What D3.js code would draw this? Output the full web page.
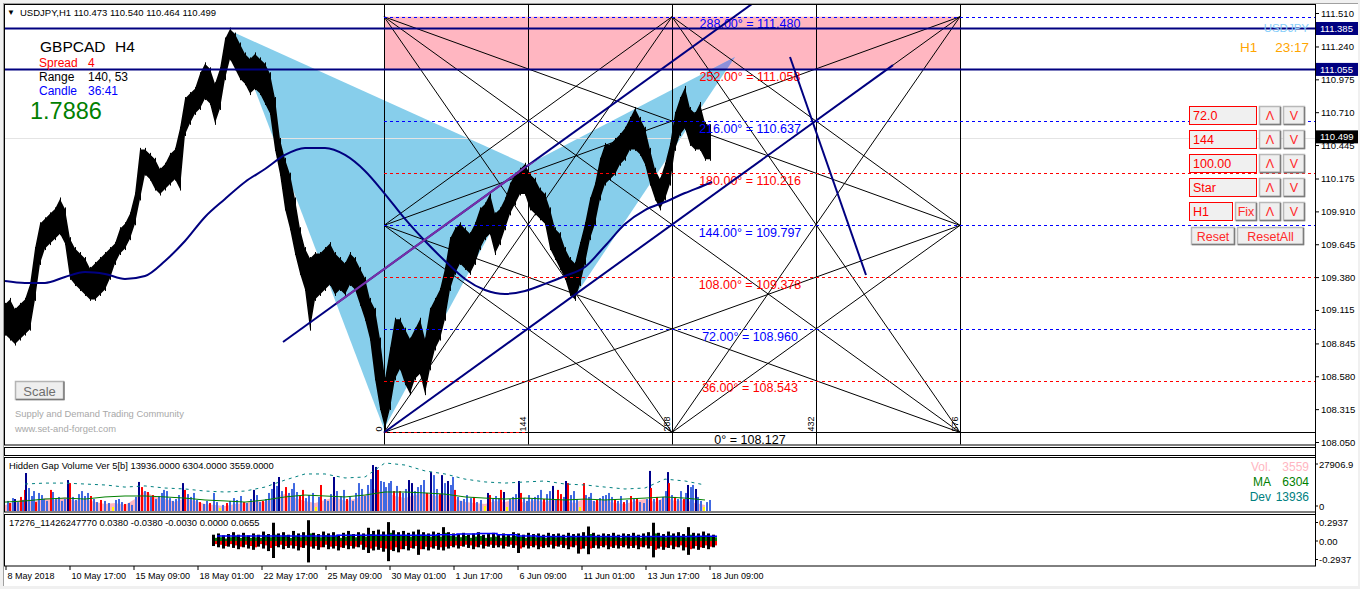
<!DOCTYPE html>
<html><head><meta charset="utf-8">
<script src="https://cdn.jsdelivr.net/npm/d3@7/dist/d3.min.js"></script>
<style>
html,body{margin:0;padding:0;background:#fff;overflow:hidden;}
svg{display:block;}
text{font-family:"Liberation Sans",Arial,sans-serif;}
</style></head><body>
<svg id="c" width="1360" height="589"></svg>
<script>
// ---------------- DATA ----------------
const timeTickBars=[0,64,128,192,256,320,384,448,512,576,640,704];
const timeLabels=["8 May 2018","10 May 17:00","15 May 09:00","18 May 01:00","22 May 17:00","25 May 09:00","30 May 01:00","1 Jun 17:00","6 Jun 09:00","11 Jun 01:00","13 Jun 17:00","18 Jun 09:00"];
const priceTicks=[111.510,111.240,110.975,110.710,110.445,110.175,109.910,109.645,109.380,109.115,108.845,108.580,108.315,108.050];
const priceTickLabels=["111.510","111.240","110.975","110.710","110.445","110.175","109.910","109.645","109.380","109.115","108.845","108.580","108.315","108.050"];
const axisMarks=[{v:111.385,label:"111.385",bg:"#000080"},{v:111.055,label:"111.055",bg:"#000080"},{v:110.499,label:"110.499",bg:"#000000"}];

const barStep=5;
const highs=[109.16,109.20,109.12,109.16,109.20,109.32,109.61,109.81,109.85,109.89,
109.93,110.01,109.93,109.69,109.61,109.57,109.53,109.45,109.49,109.53,
109.57,109.61,109.65,109.77,109.81,109.89,110.05,110.41,110.41,110.37,
110.33,110.25,110.29,110.37,110.41,110.58,110.82,110.86,110.90,111.02,
111.10,111.06,110.94,111.06,111.30,111.38,111.34,111.26,111.18,111.14,
111.18,111.14,111.10,111.02,110.82,110.49,110.33,110.21,110.01,109.77,
109.61,109.53,109.57,109.57,109.61,109.65,109.57,109.53,109.49,109.57,
109.53,109.45,109.37,109.20,109.12,108.88,108.56,108.80,109.04,109.04,
108.96,108.88,108.96,109.04,108.88,109.12,109.20,109.28,109.45,109.69,
109.77,109.81,109.77,109.73,109.81,109.93,109.97,110.05,109.89,109.93,
110.01,110.13,110.21,110.25,110.29,110.21,110.17,110.09,110.05,109.93,
109.77,109.73,109.61,109.53,109.49,109.65,109.81,110.01,110.13,110.33,
110.45,110.45,110.49,110.53,110.58,110.66,110.74,110.66,110.58,110.41,
110.25,110.17,110.29,110.45,110.70,110.82,110.91,110.74,110.70,110.78,
110.62,110.60];
const lows=[108.92,108.88,108.84,108.88,108.92,108.96,109.20,109.49,109.61,109.65,
109.69,109.73,109.65,109.37,109.32,109.28,109.24,109.20,109.20,109.24,
109.28,109.37,109.49,109.57,109.61,109.69,109.81,110.01,110.21,110.17,
110.09,110.05,110.09,110.13,110.17,110.09,110.53,110.62,110.70,110.74,
110.82,110.78,110.62,110.74,110.98,111.14,111.06,110.98,110.94,110.86,
110.90,110.86,110.78,110.70,110.41,110.21,109.93,109.77,109.57,109.41,
109.28,108.96,109.20,109.24,109.28,109.32,109.24,109.28,109.24,109.32,
109.28,109.16,109.04,108.88,108.56,108.32,108.16,108.32,108.56,108.64,
108.52,108.44,108.56,108.60,108.44,108.64,108.80,108.88,109.04,109.28,
109.41,109.49,109.45,109.41,109.49,109.61,109.69,109.73,109.57,109.65,
109.77,109.89,109.97,110.05,110.05,109.93,109.89,109.85,109.81,109.61,
109.53,109.45,109.37,109.24,109.20,109.32,109.49,109.69,109.81,110.01,
110.13,110.17,110.21,110.29,110.33,110.41,110.41,110.37,110.29,110.13,
110.01,109.93,110.01,110.13,110.41,110.53,110.58,110.45,110.41,110.41,
110.33,110.33];
const bidPrice=110.499;

const maStep=20;
const maValues=[109.349,109.333,109.333,109.381,109.421,109.405,109.365,109.389,109.510,109.671,
109.865,110.010,110.147,110.252,110.365,110.421,110.421,110.365,110.236,110.050,
109.849,109.671,109.510,109.365,109.276,109.244,109.268,109.325,109.389,109.462,
109.631,109.808,109.921,109.986,110.058,110.123];

const gannStart=379, gannSpan=576;
const gannTimeMarks=[0,144,288,432,576];
const gannLevels=[108.127,108.543,108.960,109.378,109.797,110.216,110.637,111.058,111.480];
const gannAngles=["0°","36.00°","72.00°","108.00°","144.00°","180.00°","216.00°","252.00°","288.00°"];
const zoneTop=111.480, zoneBottom=111.055;

const harmBars=[228,379,522,570,730];
const harmPrices=[111.357,108.155,110.284,109.228,111.155];

const trendUpper=[[278,108.857],[747,111.583]];
const trendLower=[[379,108.127],[888,111.090]];
const trendSteep=[[785,111.155],[861,109.397]];
const navyLevels=[111.385,111.055];

// volume sub-window
const volMax=27906.9;
const volSpikes=[[2,5300,'b'],[4,4200,'r'],[7,6800,'b'],[9,6300,'n'],[12,4700,'b'],[15,7400,'r'],[17,5800,'b'],[19,11100,'r'],[20,20000,'n'],[23,12100,'b'],
[26,7900,'b'],[28,10500,'b'],[30,4700,'r'],[33,9500,'b'],[36,8400,'b'],[38,6300,'b'],[41,5300,'b'],[45,11100,'r'],[47,10000,'b'],[50,6300,'b'],
[53,7400,'b'],[56,5300,'b'],[59,6300,'b'],[62,16300,'n'],[64,14700,'r'],[67,7400,'b'],[70,5800,'b'],[73,8900,'b'],[76,10500,'b'],[79,7900,'b'],
[82,9500,'b'],[85,7900,'r'],[88,6300,'b'],[91,4700,'b'],[95,5800,'r'],[99,5300,'b'],[103,4200,'b'],[107,2100,'y'],[110,5800,'b'],[113,6300,'b'],
[116,4700,'b'],[119,3700,'r'],[123,4200,'b'],[126,3200,'b'],[130,7400,'b'],[133,15300,'n'],[136,12600,'r'],[139,10500,'b'],[142,10000,'r'],[145,7400,'b'],
[147,8400,'r'],[150,6300,'b'],[153,7900,'b'],[156,9500,'b'],[158,11100,'b'],[161,10500,'b'],[164,6800,'b'],[167,5300,'b'],[170,6300,'b'],[173,8400,'b'],
[177,14700,'n'],[179,11100,'r'],[182,8900,'b'],[185,7400,'b'],[188,9500,'b'],[191,5800,'b'],[194,4700,'r'],[198,3700,'b'],[201,5300,'b'],[204,4200,'r'],
[208,9500,'b'],[211,4700,'b'],[214,1600,'y'],[217,3200,'b'],[221,4200,'r'],[224,5300,'b'],[228,6800,'b'],[231,5800,'b'],[235,7900,'b'],[238,4700,'r'],
[241,4200,'b'],[245,6300,'b'],[248,11100,'n'],[251,8400,'b'],[254,4700,'b'],[257,5300,'r'],[260,6300,'b'],[263,9500,'b'],[266,11600,'b'],[268,15300,'n'],
[271,13200,'b'],[273,17900,'n'],[276,10500,'b'],[280,12600,'r'],[283,9500,'b'],[286,11600,'b'],[288,14700,'b'],[291,10000,'b'],[294,7900,'r'],[297,11100,'r'],
[300,6800,'b'],[303,8400,'b'],[307,9500,'b'],[310,2100,'y'],[313,7400,'b'],[315,13700,'r'],[319,6300,'b'],[322,5300,'b'],[325,8900,'b'],[328,17900,'n'],
[331,10500,'b'],[335,7900,'b'],[338,11100,'b'],[341,6300,'r'],[344,7400,'b'],[347,5300,'b'],[350,9500,'b'],[353,14700,'b'],[356,11600,'b'],[359,7900,'b'],
[362,13700,'b'],[365,16800,'b'],[367,24200,'n'],[370,23200,'n'],[372,21600,'r'],[375,15800,'b'],[378,15300,'b'],[380,12600,'b'],[383,14700,'b'],[385,15800,'b'],
[388,10500,'r'],[391,13200,'b'],[394,10500,'r'],[397,9500,'b'],[400,11600,'b'],[403,16300,'n'],[406,14700,'n'],[409,10500,'b'],[412,12600,'b'],[415,13700,'b'],
[418,16300,'b'],[421,9500,'r'],[425,20500,'n'],[428,18900,'b'],[431,11600,'b'],[434,8900,'r'],[436,18900,'n'],[439,14700,'b'],[442,15800,'n'],[445,13700,'b'],
[447,17900,'b'],[449,11100,'r'],[452,7400,'b'],[455,5300,'b'],[458,6300,'b'],[461,8400,'b'],[465,6800,'b'],[468,7400,'r'],[471,4700,'b'],[475,5800,'b'],
[479,2600,'y'],[482,9500,'n'],[484,8400,'r'],[487,6300,'b'],[490,7900,'b'],[493,6800,'b'],[495,11100,'r'],[498,10000,'n'],[501,2100,'y'],[504,6300,'b'],
[507,7400,'b'],[510,8900,'b'],[513,15800,'n'],[515,9500,'r'],[518,6800,'b'],[521,5300,'b'],[523,8400,'b'],[526,6300,'b'],[529,7400,'b'],[532,8400,'b'],
[535,11100,'b'],[538,6300,'r'],[541,8900,'b'],[544,10500,'b'],[547,13200,'n'],[550,6300,'b'],[552,11100,'r'],[555,8900,'r'],[558,7400,'b'],[560,15800,'n'],
[562,14700,'r'],[565,8400,'b'],[568,10500,'b'],[571,6300,'b'],[574,2100,'y'],[578,14700,'r'],[580,8400,'b'],[583,7400,'b'],[585,9500,'b'],[588,5300,'b'],
[591,5800,'r'],[594,6800,'b'],[597,7900,'b'],[600,8400,'b'],[603,9500,'b'],[606,7400,'b'],[609,6300,'r'],[612,5300,'b'],[615,7900,'b'],[618,4700,'r'],
[621,5800,'b'],[625,7900,'r'],[628,6300,'b'],[631,6800,'r'],[634,4700,'b'],[638,4200,'b'],[641,6300,'b'],[644,21100,'n'],[645,12100,'r'],[648,6300,'b'],
[651,7400,'r'],[654,5800,'b'],[657,7400,'b'],[660,10500,'b'],[662,20500,'n'],[663,14700,'r'],[666,8400,'b'],[669,7400,'r'],[672,6300,'b'],[675,10500,'b'],
[678,6300,'r'],[680,9500,'b'],[682,13700,'n'],[685,12600,'b'],[687,13700,'b'],[690,11600,'n'],[692,7400,'b'],[695,5300,'b'],[698,2100,'y'],[701,4700,'b'],
[704,5800,'b']];
const volBaseStep=10;
const volBase=[3200,4700,6300,5300,6800,5800,7400,5300,6300,4700,3700,4200,3200,6300,10500,7400,6300,4700,6800,5300,
3700,3200,2600,3700,4200,5300,4700,7400,8900,6800,5300,4200,5800,7400,5300,6300,8400,11600,10000,7900,
6800,8400,9500,7900,8900,6300,4700,4200,3700,5300,4700,6300,4200,5800,4700,6300,5300,4200,6800,4700,
5800,4200,3700,5300,6300,4700,7400,5300,5800,4200,3200];
const volMAStep=20;
const volMA=[4700,5300,6300,6800,6300,7400,7900,7900,7400,6800,5800,5300,4700,5800,7400,8400,7900,7400,8400,10000,
10000,9500,8900,7400,6800,6300,6800,6300,5800,6300,5800,6300,6800,7400,6800,5800];
const volDevStart=20;
const volDev=[14200,14700,14700,14200,13700,12600,13200,12100,11600,10500,10000,10500,12600,16300,19500,19500,17400,17900,25300,24200,
21100,19500,16800,15300,14700,15300,15800,14200,13700,12600,11600,12100,16800,15800,13700];

// oscillator sub-window
const oscStart=207, oscStep=5, oscMax=0.2937;
const oscHi=[.10,.12,.09,.11,.14,.10,.13,.09,.12,.10,.15,.11,.29,.12,.14,.10,.16,.12,.14,.33,
.13,.11,.15,.12,.14,.10,.13,.16,.11,.14,.12,.21,.16,.18,.15,.30,.17,.14,.16,.13,
.15,.18,.14,.12,.15,.13,.22,.14,.12,.11,.13,.10,.12,.14,.10,.11,.13,.10,.12,.11,
.14,.12,.10,.13,.11,.12,.10,.13,.11,.12,.10,.13,.11,.12,.14,.23,.13,.10,.12,.11,
.13,.10,.12,.11,.13,.10,.12,.14,.29,.13,.11,.15,.12,.14,.11,.22,.13,.12,.15,.12,.10];
const oscLo=[-.08,-.10,-.12,-.09,-.11,-.13,-.10,-.12,-.14,-.09,-.12,-.16,-.27,-.10,-.13,-.11,-.12,-.15,-.11,-.34,
-.12,-.14,-.10,-.13,-.12,-.15,-.11,-.13,-.12,-.10,-.14,-.19,-.15,-.14,-.17,-.32,-.16,-.18,-.13,-.15,
-.12,-.22,-.13,-.15,-.12,-.14,-.15,-.12,-.10,-.12,-.09,-.11,-.13,-.10,-.12,-.09,-.11,-.10,-.12,-.09,
-.11,-.19,-.10,-.12,-.10,-.13,-.11,-.10,-.12,-.09,-.11,-.13,-.10,-.20,-.12,-.21,-.11,-.12,-.10,-.13,
-.11,-.12,-.10,-.12,-.11,-.13,-.10,-.12,-.26,-.12,-.14,-.11,-.13,-.10,-.15,-.22,-.12,-.14,-.11,-.13,-.10];
const oscGreen=[.05,.06,.04,.06,.08,.05,.07,.05,.06,.05,.09,.06,.10,.07,.09,.05,.08,.06,.08,.12,
.07,.06,.09,.07,.08,.05,.07,.10,.06,.08,.07,.11,.09,.10,.08,.13,.10,.08,.09,.07,
.09,.10,.08,.07,.08,.07,.13,.08,.07,.06,.08,.05,.07,.08,.05,.06,.07,.05,.07,.06,
.08,.07,.05,.07,.06,.07,.05,.07,.06,.07,.05,.08,.06,.07,.08,.11,.08,.06,.07,.06,
.08,.05,.07,.06,.08,.05,.07,.08,.12,.08,.06,.09,.07,.08,.06,.10,.08,.07,.09,.07,.06];
const oscRed=[-.05,-.06,-.08,-.05,-.07,-.09,-.06,-.08,-.10,-.05,-.07,-.11,-.08,-.06,-.08,-.07,-.08,-.10,-.07,-.09,
-.08,-.10,-.06,-.09,-.08,-.10,-.07,-.08,-.09,-.06,-.10,-.12,-.09,-.11,-.12,-.14,-.10,-.13,-.08,-.11,
-.08,-.13,-.09,-.10,-.08,-.10,-.09,-.08,-.07,-.08,-.06,-.07,-.09,-.06,-.08,-.06,-.07,-.07,-.08,-.06,
-.07,-.12,-.07,-.08,-.07,-.09,-.07,-.06,-.08,-.06,-.07,-.09,-.07,-.13,-.08,-.12,-.07,-.08,-.07,-.09,
-.07,-.08,-.07,-.08,-.07,-.09,-.07,-.08,-.14,-.09,-.10,-.07,-.09,-.07,-.10,-.13,-.08,-.10,-.07,-.09,-.07];
const oscBlueStep=20;
const oscBlue=[.08,.08,.08,.08,.08,.08,.09,.09,.09,.09,.09,.10,.11,.12,.10,.08,.07,.07,.07,.07,.07,.07,.07,.07,.075,.075];

const ctrlInputs=["72.0","144","100.00","Star","H1"];

// ---------------- RENDER ----------------
const W=1360,H=589;
const svg=d3.select("#c");
const xs=d3.scaleLinear().domain([0,1310]).range([5,1315]);
const ys=d3.scaleLinear().domain([108.050,111.510]).range([442,13]);
const yv=d3.scaleLinear().domain([0,volMax]).range([511,458]);
const yo=d3.scaleLinear().domain([-oscMax,oscMax]).range([559.5,522.5]);
const AX=1315;

// window
svg.append("rect").attr("width",W).attr("height",H).attr("fill","#f0f0f0");
svg.append("rect").attr("x",4).attr("y",4).attr("width",1354).attr("height",582).attr("fill","#fff");
svg.append("line").attr("x1",3).attr("x2",1358).attr("y1",3.5).attr("y2",3.5).attr("stroke","#a0a0a0");
svg.append("line").attr("x1",3.5).attr("x2",3.5).attr("y1",3).attr("y2",586).attr("stroke","#a0a0a0");

const defs=svg.append("defs");
defs.append("clipPath").attr("id","clipMain").append("rect").attr("x",5).attr("y",4.5).attr("width",AX-5).attr("height",440);
defs.append("clipPath").attr("id","clipPink").append("rect")
  .attr("x",xs(gannStart)).attr("y",ys(zoneTop)).attr("width",xs(gannStart+gannSpan)-xs(gannStart)).attr("height",ys(zoneBottom)-ys(zoneTop));
const tri1=[0,1,2].map(i=>[xs(harmBars[i]),ys(harmPrices[i])]);
const tri2=[2,3,4].map(i=>[xs(harmBars[i]),ys(harmPrices[i])]);
const cb=defs.append("clipPath").attr("id","clipBlue");
cb.append("polygon").attr("points",tri1.join(" "));
cb.append("polygon").attr("points",tri2.join(" "));

const gm=svg.append("g").attr("clip-path","url(#clipMain)");
// pink zone
gm.append("rect").attr("x",xs(gannStart)).attr("y",ys(zoneTop))
  .attr("width",xs(gannStart+gannSpan)-xs(gannStart)).attr("height",ys(zoneBottom)-ys(zoneTop)).attr("fill","#FFB6C1");
// harmonic triangles
gm.append("polygon").attr("points",tri1.join(" ")).attr("fill","#87CEEB");
gm.append("polygon").attr("points",tri2.join(" ")).attr("fill","#87CEEB");
gm.append("g").attr("clip-path","url(#clipPink)").append("polygon").attr("points",tri2.join(" ")).attr("fill","#8e90da");
// bid line
gm.append("line").attr("x1",5).attr("x2",AX).attr("y1",Math.round(ys(bidPrice))+0.5).attr("y2",Math.round(ys(bidPrice))+0.5).attr("stroke","#e4e4e4");
// price band
const pdata=highs.map((h,i)=>({b:i*barStep,h:h,l:lows[i]}));
gm.append("path").datum(pdata).attr("d",d3.area().x(d=>xs(d.b)).y0(d=>ys(d.l)).y1(d=>ys(d.h)))
  .attr("fill","#000");
pdata.forEach(d=>{gm.append("line").attr("x1",xs(d.b)+0.5).attr("x2",xs(d.b)+0.5).attr("y1",ys(d.h)-1.5).attr("y2",ys(d.l)+1.5).attr("stroke","#000");});

// gann verticals
gannTimeMarks.forEach(t=>{const x=Math.round(xs(gannStart+t))+0.5;
  gm.append("line").attr("x1",x).attr("x2",x).attr("y1",4).attr("y2",445).attr("stroke","#000");});
// gann star lines
const g0=gannStart,g1=gannStart+gannSpan,gmid=gannStart+gannSpan/2;
const pT=gannLevels[8],pB=gannLevels[0],pM=gannLevels[4];
const P={TL:[g0,pT],TM:[gmid,pT],TR:[g1,pT],LM:[g0,pM],RM:[g1,pM],BL:[g0,pB],BM:[gmid,pB],BR:[g1,pB]};
const starPairs=[["TL","BR"],["TR","BL"],["TL","RM"],["TL","BM"],["TR","LM"],["TR","BM"],["BL","TM"],["BL","RM"],["BR","TM"],["BR","LM"],["TM","RM"],["RM","BM"],["BM","LM"],["LM","TM"]];
starPairs.forEach(([a,b])=>{gm.append("line").attr("x1",xs(P[a][0])).attr("y1",ys(P[a][1])).attr("x2",xs(P[b][0])).attr("y2",ys(P[b][1]))
  .attr("stroke","#000").attr("stroke-width",1);});
// levels
const yb0=Math.round(ys(gannLevels[0]))+0.5;
gm.append("line").attr("x1",xs(g0)).attr("x2",AX).attr("y1",yb0).attr("y2",yb0).attr("stroke","#000");
gannLevels.forEach((lv,i)=>{
  const y=Math.round(ys(lv))+0.5, col=(i%2===0&&i>0)?"#0000FF":"#FF0000";
  gm.append("line").attr("x1",xs(g0)).attr("x2",i===0?xs(g0+144):AX).attr("y1",y).attr("y2",y)
    .attr("stroke",col).attr("stroke-dasharray","3,3");
  gm.append("text").attr("x",xs(745)).attr("y",ys(lv)+11.5).attr("text-anchor","middle").attr("font-size","12.5px")
    .attr("fill",i===0?"#000":col).text(gannAngles[i]+" = "+lv.toFixed(3));
});
gannTimeMarks.forEach(t=>{gm.append("text").attr("transform",`translate(${xs(gannStart+t)-2},${ys(pB)-1}) rotate(-90)`)
  .attr("font-size","9px").attr("fill","#000").text(String(t));});

// MA
gm.append("path").datum(maValues.map((v,i)=>[i*maStep,v]).concat([[707,110.147]]))
  .attr("d",d3.line().x(d=>xs(d[0])).y(d=>ys(d[1])).curve(d3.curveMonotoneX))
  .attr("fill","none").attr("stroke","#000080").attr("stroke-width",2);
// trend lines
function tl(seg,col,clip){const l=gm.append("line").attr("x1",xs(seg[0][0])).attr("y1",ys(seg[0][1])).attr("x2",xs(seg[1][0])).attr("y2",ys(seg[1][1]))
  .attr("stroke",col).attr("stroke-width",2); if(clip) l.attr("clip-path","url(#clipBlue)");}
tl(trendUpper,"#000080");tl(trendUpper,"#7a2fa8",true);
tl(trendLower,"#000080");tl(trendSteep,"#000080");
navyLevels.forEach(v=>{gm.append("line").attr("x1",5).attr("x2",AX).attr("y1",ys(v)).attr("y2",ys(v)).attr("stroke","#000080").attr("stroke-width",2);});

// ---- texts in main window ----
svg.append("text").attr("x",7).attr("y",15).attr("font-size","8px").text("▼");
svg.append("text").attr("x",20).attr("y",16).attr("font-size","9.5px").attr("fill","#000").text("USDJPY,H1  110.473 110.540 110.464 110.499");
svg.append("text").attr("x",40).attr("y",52).attr("font-size","15.5px").attr("fill","#000").text("GBPCAD");
svg.append("text").attr("x",115).attr("y",52).attr("font-size","15.5px").attr("fill","#000").text("H4");
[["Spread","4","#FF0000",67],["Range","140, 53","#000",81],["Candle","36:41","#0000FF",95]].forEach(r=>{
  svg.append("text").attr("x",39).attr("y",r[3]).attr("font-size","12px").attr("fill",r[2]).text(r[0]);
  svg.append("text").attr("x",88).attr("y",r[3]).attr("font-size","12px").attr("fill",r[2]).text(r[1]);});
svg.append("text").attr("x",30).attr("y",119).attr("font-size","23.5px").attr("fill","#008000").text("1.7886");
// scale button
svg.append("rect").attr("x",15.5).attr("y",381.5).attr("width",48).attr("height",18).attr("fill","#eeeeee").attr("stroke","#b4b4b4").attr("stroke-width",1.5);
svg.append("path").attr("d","M16,399.5H64V381.5").attr("fill","none").attr("stroke","#7a7a7a").attr("stroke-width",1.5);
svg.append("text").attr("x",39.5).attr("y",395.5).attr("text-anchor","middle").attr("font-size","13px").attr("fill","#6e6e6e").text("Scale");
svg.append("text").attr("x",15).attr("y",417).attr("font-family","Noto Sans").attr("font-size","9.4px").attr("fill","#a8a8a8").text("Supply and Demand Trading Community");
svg.append("text").attr("x",15).attr("y",432).attr("font-family","Noto Sans").attr("font-size","9.4px").attr("fill","#a8a8a8").text("www.set-and-forget.com");
// top-right texts
svg.append("text").attr("x",1309).attr("y",32).attr("text-anchor","end").attr("font-size","11.5px").attr("fill","#87CEFA").text("USDJPY");
svg.append("text").attr("x",1240).attr("y",52).attr("font-size","13.5px").attr("fill","#FFA500").text("H1");
svg.append("text").attr("x",1309).attr("y",52).attr("text-anchor","end").attr("font-size","13.5px").attr("fill","#FFA500").text("23:17");
// control panel
function btn(x,y,w,h,label){
  svg.append("rect").attr("x",x+0.5).attr("y",y+0.5).attr("width",w-1).attr("height",h-1).attr("fill","#efefef").attr("stroke","#b8b8b8").attr("stroke-width",1.5);
  svg.append("path").attr("d",`M${x+1},${y+h-0.5}H${x+w-0.5}V${y+1}`).attr("fill","none").attr("stroke","#7c7c7c").attr("stroke-width",1.5);
  svg.append("text").attr("x",x+w/2).attr("y",y+h/2+4.5).attr("text-anchor","middle").attr("font-size","12.5px").attr("fill","#ff2a2a").text(label);}
ctrlInputs.forEach((s,i)=>{
  const y=106+24*i, w=(i===4)?43:67;
  svg.append("rect").attr("x",1189.5).attr("y",y+0.5).attr("width",w).attr("height",18).attr("fill","#f0f0f0").attr("stroke","#ff0000");
  svg.append("text").attr("x",1193).attr("y",y+14).attr("font-size","12.5px").attr("fill","#ff0000").text(s);
  if(i===4) btn(1235,y,22,19,"Fix");
  btn(1259,y,22,19,"Λ"); btn(1283,y,22,19,"V");
});
btn(1191,227,44,18,"Reset"); btn(1237,227,67,18,"ResetAll");

// ---- panels frames ----
[[4.5,440.5],[447.5,8],[457.5,54.5],[514.5,51.5]].forEach(p=>{
  svg.append("rect").attr("x",4.5).attr("y",p[0]).attr("width",AX-4).attr("height",p[1]).attr("fill","none").attr("stroke","#000");});

// price axis
const pa=svg.append("g").attr("transform",`translate(${AX},0)`).call(d3.axisRight(ys).tickValues(priceTicks).tickFormat((d,i)=>priceTickLabels[i]).tickSize(4).tickPadding(2));
pa.select(".domain").remove();
pa.selectAll("text").attr("font-family","Liberation Sans").attr("font-size","9.5px").attr("fill","#000");
axisMarks.forEach(m=>{const y=ys(m.v)-(m.bg==="#000000"?1.5:0);
  svg.append("rect").attr("x",AX+1).attr("y",y-6.5).attr("width",42).attr("height",13).attr("fill",m.bg);
  svg.append("text").attr("x",AX+5).attr("y",y+3.5).attr("font-size","9.5px").attr("fill","#fff").text(m.label);});

// volume window
svg.append("text").attr("x",9).attr("y",469).attr("font-size","9.4px").text("Hidden Gap Volume Ver 5[b] 13936.0000 6304.0000 3559.0000");
const gv=svg.append("g");
gv.append("path").datum(volBase.map((v,i)=>[i*volBaseStep,v]))
  .attr("d",d3.area().x(d=>xs(d[0])).y0(yv(0)).y1(d=>yv(d[1]))).attr("fill","#FFB6C1");
const vcol={b:"#4169E1",n:"#00008B",r:"#FF0000",y:"#FFFF00"};
gv.selectAll("rect.v").data(volSpikes).enter().append("rect").attr("x",d=>xs(d[0])).attr("width",2)
  .attr("y",d=>yv(d[1])).attr("height",d=>yv(0)-yv(d[1])).attr("fill",d=>vcol[d[2]]);
gv.append("path").datum(volMA.map((v,i)=>[i*volMAStep,v])).attr("d",d3.line().x(d=>xs(d[0])).y(d=>yv(d[1])))
  .attr("fill","none").attr("stroke","#008000");
gv.append("path").datum(volDev.map((v,i)=>[volDevStart+i*volMAStep,v])).attr("d",d3.line().x(d=>xs(d[0])).y(d=>yv(d[1])))
  .attr("fill","none").attr("stroke","#008080").attr("stroke-dasharray","3,4");
[["Vol.","3559","#FFB6C1",471],["MA","6304","#008000",486],["Dev","13936","#008080",501]].forEach(r=>{
  svg.append("text").attr("x",1271).attr("y",r[3]).attr("text-anchor","end").attr("font-size","12px").attr("fill",r[2]).text(r[0]);
  svg.append("text").attr("x",1309).attr("y",r[3]).attr("text-anchor","end").attr("font-size","12px").attr("fill",r[2]).text(r[1]);});
[[volMax,"27906.9",6],[0,"0",-5]].forEach(t=>{
  svg.append("line").attr("x1",AX).attr("x2",AX+3).attr("y1",yv(t[0])+t[2]).attr("y2",yv(t[0])+t[2]).attr("stroke","#000");
  svg.append("text").attr("x",AX+4).attr("y",yv(t[0])+t[2]+3.5).attr("font-size","9.5px").text(t[1]);});

// oscillator window
svg.append("text").attr("x",9).attr("y",526).attr("font-size","9.4px").text("17276_11426247770 0.0380 -0.0380 -0.0030 0.0000 0.0655");
const go=svg.append("g");
oscHi.forEach((h,i)=>{const x=xs(oscStart+i*oscStep);
  go.append("rect").attr("x",x).attr("width",3).attr("y",yo(h)).attr("height",yo(oscLo[i])-yo(h)).attr("fill","#000");
  go.append("rect").attr("x",x+3).attr("width",2).attr("y",yo(oscGreen[i])).attr("height",yo(0)-yo(oscGreen[i])).attr("fill","#008000");
  go.append("rect").attr("x",x+3).attr("width",2).attr("y",yo(0)).attr("height",yo(oscRed[i])-yo(0)).attr("fill","#FF0000");
});
go.append("path").datum(oscBlue.map((v,i)=>[oscStart+5+i*oscBlueStep,v]))
  .attr("d",d3.line().x(d=>xs(d[0])).y(d=>yo(d[1])).curve(d3.curveStepAfter)).attr("fill","none").attr("stroke","#0000FF").attr("stroke-width",1.5);
[[oscMax,"0.2937"],[0,"0.00"],[-oscMax,"-0.2937"]].forEach(t=>{
  svg.append("line").attr("x1",AX).attr("x2",AX+3).attr("y1",yo(t[0])).attr("y2",yo(t[0])).attr("stroke","#000");
  svg.append("text").attr("x",AX+4).attr("y",yo(t[0])+3.5).attr("font-size","9.5px").text(t[1]);});

// axis line
svg.append("line").attr("x1",AX+0.5).attr("x2",AX+0.5).attr("y1",4).attr("y2",566).attr("stroke","#000");
// time axis
const ta=svg.append("g").attr("transform","translate(0,566)").call(d3.axisBottom(xs).tickValues(timeTickBars).tickFormat((d,i)=>timeLabels[i]).tickSize(4).tickPadding(3));
ta.select(".domain").remove();
ta.selectAll("line").attr("transform","translate(0.5,0)");
ta.selectAll("text").attr("text-anchor","start").attr("dx","2").attr("font-family","Liberation Sans").attr("font-size","9px").attr("fill","#000");
</script></body></html>
